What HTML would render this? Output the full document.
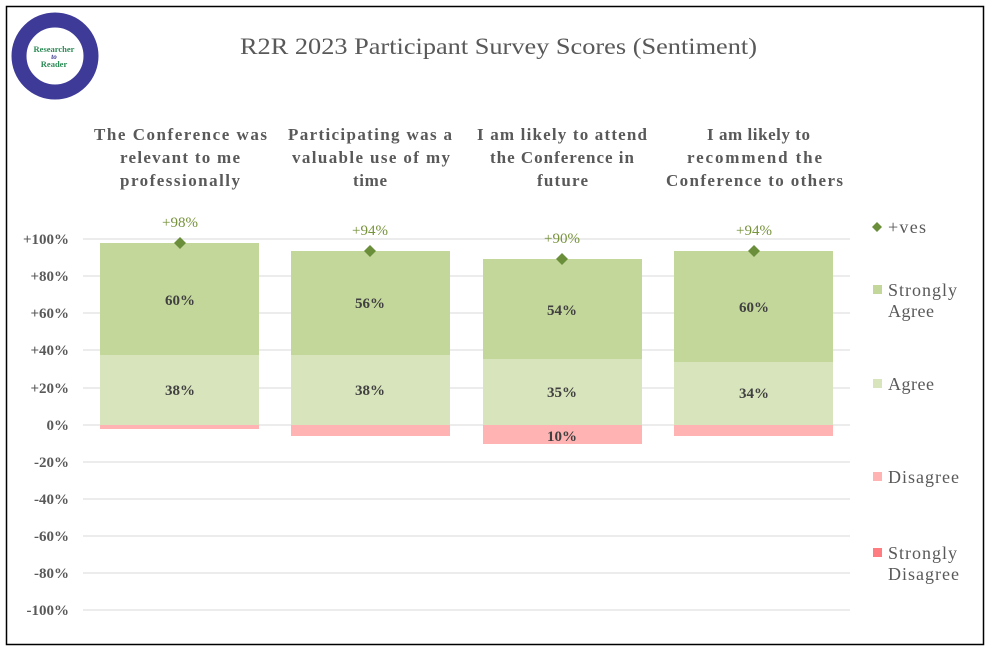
<!DOCTYPE html>
<html><head><style>
body{margin:0;background:#fff;}
svg text{font-family:"Liberation Serif",serif;}
</style></head><body>
<svg width="990" height="651" xmlns="http://www.w3.org/2000/svg">
<rect x="6.5" y="6.5" width="977" height="638" fill="#fff" stroke="#000" stroke-width="1.5"/>
<!-- logo -->
<g>
<circle cx="55" cy="56" r="36" fill="none" stroke="#3e3a98" stroke-width="15"/>
<circle cx="55" cy="56" r="28" fill="#fff"/>
<text x="54" y="52" font-size="8.5" font-weight="bold" fill="#2e8b57" text-anchor="middle">Researcher</text>
<text x="54" y="59" font-size="7" font-style="italic" font-weight="bold" fill="#3a3590" text-anchor="middle">to</text>
<text x="54" y="67" font-size="8.5" font-weight="bold" fill="#2e8b57" text-anchor="middle">Reader</text>
</g>
<text x="240" y="54" font-size="23" fill="#595959" textLength="517" lengthAdjust="spacingAndGlyphs">R2R 2023 Participant Survey Scores (Sentiment)</text>
<g font-size="17" font-weight="bold" fill="#595959" lengthAdjust="spacingAndGlyphs">
<text x="94" y="140" textLength="173">The Conference was</text><text x="120" y="163" textLength="120">relevant to me</text><text x="120" y="186" textLength="120">professionally</text>
<text x="288" y="140" textLength="164">Participating was a</text><text x="292" y="163" textLength="158">valuable use of my</text><text x="353" y="186" textLength="34">time</text>
<text x="477" y="140" textLength="170">I am likely to attend</text><text x="490" y="163" textLength="144">the Conference in</text><text x="537" y="186" textLength="51">future</text>
<text x="707" y="140" textLength="103">I am likely to</text><text x="687" y="163" textLength="135">recommend the</text><text x="666" y="186" textLength="177">Conference to others</text>
</g>
<g stroke="#d9d9d9" stroke-width="1">
<line x1="83" x2="850" y1="239" y2="239"/><line x1="83" x2="850" y1="276" y2="276"/><line x1="83" x2="850" y1="313" y2="313"/><line x1="83" x2="850" y1="350" y2="350"/><line x1="83" x2="850" y1="388" y2="388"/><line x1="83" x2="850" y1="425" y2="425"/><line x1="83" x2="850" y1="462" y2="462"/><line x1="83" x2="850" y1="499" y2="499"/><line x1="83" x2="850" y1="536" y2="536"/><line x1="83" x2="850" y1="573" y2="573"/><line x1="83" x2="850" y1="610" y2="610"/>
</g>
<g font-size="15" font-weight="bold" fill="#595959" text-anchor="end">
<text x="69" y="244">+100%</text><text x="69" y="281">+80%</text><text x="69" y="318">+60%</text><text x="69" y="355">+40%</text><text x="69" y="393">+20%</text><text x="69" y="430">0%</text><text x="69" y="467">-20%</text><text x="69" y="504">-40%</text><text x="69" y="541">-60%</text><text x="69" y="578">-80%</text><text x="69" y="615">-100%</text>
</g>
<!-- bars -->
<g>
<rect x="100" y="243" width="159" height="112" fill="#c4d79b"/><rect x="100" y="355" width="159" height="70" fill="#d8e4bc"/><rect x="100" y="425" width="159" height="4" fill="#ffb3b3"/>
<rect x="291" y="251" width="159" height="104" fill="#c4d79b"/><rect x="291" y="355" width="159" height="70" fill="#d8e4bc"/><rect x="291" y="425" width="159" height="11" fill="#ffb3b3"/>
<rect x="483" y="259" width="159" height="100" fill="#c4d79b"/><rect x="483" y="359" width="159" height="66" fill="#d8e4bc"/><rect x="483" y="425" width="159" height="19" fill="#ffb3b3"/>
<rect x="674" y="251" width="159" height="111" fill="#c4d79b"/><rect x="674" y="362" width="159" height="63" fill="#d8e4bc"/><rect x="674" y="425" width="159" height="11" fill="#ffb3b3"/>
</g>
<g font-size="15" font-weight="bold" fill="#404040" text-anchor="middle">
<text x="180" y="305">60%</text><text x="180" y="395">38%</text>
<text x="370" y="308">56%</text><text x="370" y="395">38%</text>
<text x="562" y="315">54%</text><text x="562" y="397">35%</text><text x="562" y="441">10%</text>
<text x="754" y="312">60%</text><text x="754" y="398">34%</text>
</g>
<g fill="#6b8e3a">
<path d="M180 237 l6 6 -6 6 -6 -6z"/><path d="M370 245 l6 6 -6 6 -6 -6z"/><path d="M562 253 l6 6 -6 6 -6 -6z"/><path d="M754 245 l6 6 -6 6 -6 -6z"/>
</g>
<g font-size="15" fill="#77933c" text-anchor="middle">
<text x="180" y="227">+98%</text><text x="370" y="235">+94%</text><text x="562" y="243">+90%</text><text x="754" y="235">+94%</text>
</g>
<!-- legend -->
<g font-size="18" fill="#595959" lengthAdjust="spacingAndGlyphs">
<path d="M877 222 l5 5 -5 5 -5 -5z" fill="#6b8e3a"/><text x="888" y="233" textLength="38">+ves</text>
<rect x="873" y="285" width="9" height="9" fill="#c4d79b"/><text x="888" y="296" textLength="69">Strongly</text><text x="888" y="317" textLength="46">Agree</text>
<rect x="873" y="379" width="9" height="9" fill="#d8e4bc"/><text x="888" y="390" textLength="46">Agree</text>
<rect x="873" y="472" width="9" height="9" fill="#ffb3b3"/><text x="888" y="483" textLength="71">Disagree</text>
<rect x="873" y="548" width="9" height="9" fill="#ff7c80"/><text x="888" y="559" textLength="69">Strongly</text><text x="888" y="580" textLength="71">Disagree</text>
</g>
</svg>
</body></html>
